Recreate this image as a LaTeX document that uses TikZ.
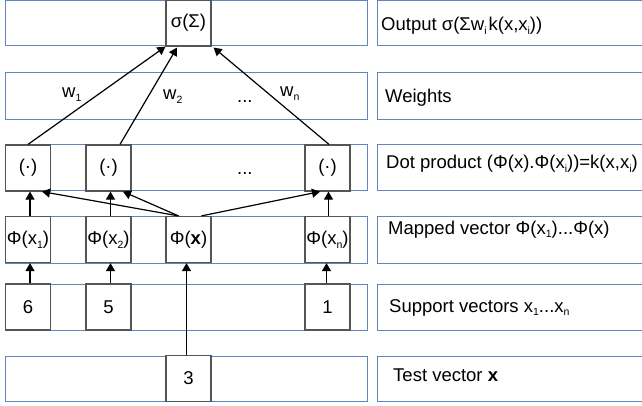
\documentclass[tikz,border=0pt]{standalone}
\usepackage{fontspec}
\setmainfont{Liberation Sans}
\usetikzlibrary{arrows.meta}
\definecolor{bandblue}{RGB}{96,134,192}
\definecolor{boxgray}{RGB}{85,85,85}
% lowered small index, as in w_1 or x_n
\newcommand{\subt}[1]{\raisebox{-3.8pt}{\fontsize{10.5}{10}\selectfont #1}}
\begin{document}
\begin{tikzpicture}[x=1pt, y=-1pt,
  font=\fontsize{18.5}{22}\selectfont,
  band/.style={draw=bandblue, line width=1pt},
  cell/.style={draw=boxgray, fill=white, line width=1.2pt, inner sep=0pt,
    minimum width=45pt, minimum height=46pt},
  arr/.style={draw=black, line width=1.2pt, -{Triangle[length=8pt,width=9pt]}},
  lbl/.style={anchor=base west, inner sep=0pt}]
\useasboundingbox (0,0) rectangle (642,406);
\clip (0,0) rectangle (642,406);

% layer bands, left part
\draw[band] (5.5,0.5) rectangle (367,46);
\draw[band] (5.5,73) rectangle (367,120);
\draw[band] (5.5,145) rectangle (367,191);
\draw[band] (5.5,216) rectangle (367,263);
\draw[band] (5.5,284) rectangle (367,330);
\draw[band] (5.5,356) rectangle (367,401);

% layer bands, caption part
\draw[band] (377,0.5) rectangle (660,46);
\draw[band] (377,73) rectangle (660,120);
\draw[band] (377,145) rectangle (660,191);
\draw[band] (377,216) rectangle (660,263);
\draw[band] (377,284) rectangle (660,330);
\draw[band] (377,356) rectangle (660,401);

% output unit
\node[cell] (o) at (188.5,23) {σ(Σ)};

% dot product units
\node[cell] (d1) at (28,168) {(·)};
\node[cell] (d2) at (108.5,168) {(·)};
\node[cell] (dn) at (327.5,168) {(·)};
\node[lbl] (ddots) at (237,175) {...};

% mapped vectors
\node[cell] (m1) at (28,239.5) {Φ(x\subt{1})};
\node[cell] (m2) at (108.5,239.5) {Φ(x\subt{2})};
\node[cell] (mx) at (188.5,239.5) {Φ(\textbf{x})};
\node[cell] (mn) at (327.5,239.5) {Φ(x\subt{n})};

% support vectors
\node[cell] (s1) at (28,307) {6};
\node[cell] (s2) at (108.5,307) {5};
\node[cell] (sn) at (327.5,307) {1};

% test vector
\node[cell] (t) at (188.5,378.5) {3};

% weights
\node[lbl] (w1) at (62,98) {w\subt{1}};
\node[lbl] (w2) at (163,100) {w\subt{2}};
\node[lbl] (wdots) at (237,103) {...};
\node[lbl] (wn) at (280,97) {w\subt{n}};

% captions
\node[lbl] (c1) at (381,31) {Output σ(Σw\subt{i}\kern2pt k(x,x\subt{i}))};
\node[lbl] (c2) at (385,103) {Weights};
\node[lbl] (c3) at (386,169) {Dot product (Φ(x).Φ(x\subt{i}))=k(x,x\subt{i})};
\node[lbl] (c4) at (388,234) {Mapped vector Φ(x\subt{1})...Φ(x)};
\node[lbl] (c5) at (389,312) {Support vectors x\subt{1}...x\subt{n}};
\node[lbl] (c6) at (393,381) {Test vector \textbf{x}};

% support vectors to mapped vectors
\draw[arr] ([xshift=2pt]s1.north) -- ([xshift=2pt]m1.south);
\draw[arr] ([xshift=2pt]s2.north) -- ([xshift=2pt]m2.south);
\draw[arr] ([xshift=-1pt]sn.north) -- ([xshift=-1pt]mn.south);
\draw[arr] ([xshift=-2pt]t.north) -- ([xshift=-2pt]mx.south);

% mapped vectors to dot products
\draw[arr] ([xshift=2pt]m1.north) -- ([xshift=2pt]d1.south);
\draw[arr] ([xshift=2pt]m2.north) -- ([xshift=2pt]d2.south);
\draw[arr] ([xshift=1pt]mn.north) -- ([xshift=1pt]dn.south);
\draw[arr] ([xshift=-10pt]mx.north) -- ([xshift=14pt]d1.south);
\draw[arr] ([xshift=-10pt]mx.north) -- ([xshift=14.5pt]d2.south);
\draw[arr] ([xshift=13pt]mx.north) -- ([xshift=-7.5pt]dn.south);

% dot products to output
\draw[arr] (d1.north) -- (o.south west);
\draw[arr] ([xshift=11.5pt]d2.north) -- ([xshift=-11.5pt,yshift=-1pt]o.south);
\draw[arr] ([xshift=1.5pt]dn.north) -- ([xshift=2pt,yshift=-1pt]o.south east);
\end{tikzpicture}
\end{document}
